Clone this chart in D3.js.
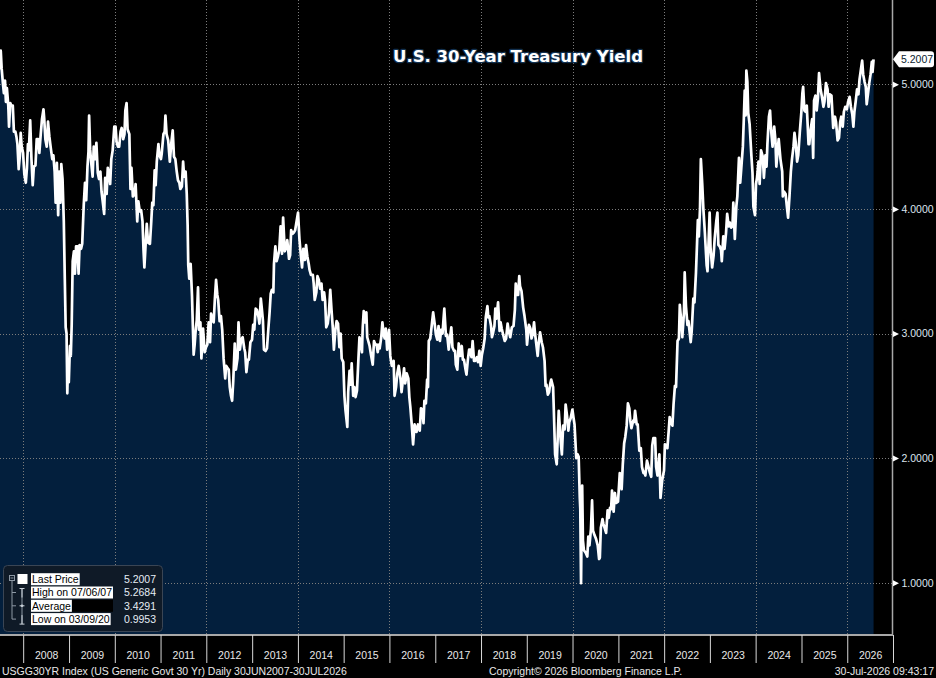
<!DOCTYPE html>
<html><head><meta charset="utf-8">
<script src="https://cdn.jsdelivr.net/npm/d3@7"></script>
<style>html,body{margin:0;padding:0;background:#000;}svg{display:block;}</style>
</head><body>
<svg id="chart" width="936" height="678"></svg>
<script>
// ---------------- DATA ----------------
const dates = [
"2007-06-29","2007-07-06","2007-07-13","2007-07-24","2007-07-31","2007-08-09","2007-08-16","2007-08-24","2007-09-04","2007-09-10","2007-09-20","2007-09-28","2007-10-10","2007-10-19","2007-10-31","2007-11-08","2007-11-16","2007-11-26","2007-12-05","2007-12-12","2007-12-20","2007-12-31",
"2008-01-10","2008-01-22","2008-01-31","2008-02-08","2008-02-15","2008-02-26","2008-03-07","2008-03-17","2008-03-26","2008-04-08","2008-04-18","2008-04-29","2008-05-09","2008-05-20","2008-05-30","2008-06-11","2008-06-17","2008-06-26","2008-07-07","2008-07-17","2008-07-28","2008-08-08","2008-08-20","2008-08-29","2008-09-08","2008-09-16","2008-09-26","2008-10-06","2008-10-14","2008-10-24","2008-10-31","2008-11-10","2008-11-20","2008-11-28","2008-12-05","2008-12-12","2008-12-18","2008-12-24","2008-12-30",
"2009-01-08","2009-01-15","2009-01-22","2009-01-30","2009-02-09","2009-02-17","2009-02-26","2009-03-09","2009-03-18","2009-03-26","2009-04-07","2009-04-16","2009-04-28","2009-05-08","2009-05-18","2009-05-28","2009-06-05","2009-06-10","2009-06-18","2009-06-26","2009-07-08","2009-07-17","2009-07-29","2009-08-07","2009-08-18","2009-08-28","2009-09-08","2009-09-17","2009-09-30","2009-10-08","2009-10-16","2009-10-28","2009-11-06","2009-11-16","2009-11-25","2009-12-04","2009-12-15","2009-12-28",
"2010-01-07","2010-01-15","2010-01-26","2010-02-05","2010-02-16","2010-02-25","2010-03-09","2010-03-19","2010-03-26","2010-04-05","2010-04-13","2010-04-27","2010-05-06","2010-05-14","2010-05-25","2010-06-08","2010-06-16","2010-06-29","2010-07-08","2010-07-19","2010-07-30","2010-08-10","2010-08-18","2010-08-25","2010-09-03","2010-09-13","2010-09-23","2010-10-08","2010-10-19","2010-10-27","2010-11-05","2010-11-15","2010-11-23","2010-12-02","2010-12-15","2010-12-23",
"2011-01-04","2011-01-10","2011-01-24","2011-02-03","2011-02-09","2011-02-18","2011-03-03","2011-03-16","2011-03-28","2011-04-08","2011-04-18","2011-04-29","2011-05-10","2011-05-20","2011-05-31","2011-06-08","2011-06-20","2011-06-30","2011-07-08","2011-07-20","2011-07-29","2011-08-05","2011-08-10","2011-08-18","2011-08-29","2011-09-09","2011-09-22","2011-09-30","2011-10-07","2011-10-17","2011-10-27","2011-11-04","2011-11-15","2011-11-23","2011-12-06","2011-12-19","2011-12-30",
"2012-01-09","2012-01-20","2012-01-31","2012-02-08","2012-02-22","2012-02-29","2012-03-09","2012-03-19","2012-03-29","2012-04-05","2012-04-16","2012-04-27","2012-05-07","2012-05-18","2012-05-31","2012-06-08","2012-06-20","2012-06-28","2012-07-06","2012-07-16","2012-07-25","2012-08-03","2012-08-15","2012-08-24","2012-09-06","2012-09-14","2012-09-25","2012-10-05","2012-10-17","2012-10-30","2012-11-06","2012-11-16","2012-11-27","2012-12-06","2012-12-18","2012-12-31",
"2013-01-09","2013-01-18","2013-01-29","2013-02-08","2013-02-21","2013-02-28","2013-03-11","2013-03-20","2013-03-28","2013-04-05","2013-04-18","2013-04-29","2013-05-09","2013-05-20","2013-05-29","2013-06-07","2013-06-19","2013-06-24","2013-07-05","2013-07-15","2013-07-26","2013-08-05","2013-08-16","2013-08-27","2013-09-05","2013-09-18","2013-09-30","2013-10-08","2013-10-22","2013-10-31","2013-11-08","2013-11-19","2013-11-29","2013-12-10","2013-12-18","2013-12-31",
"2014-01-02","2014-01-13","2014-01-24","2014-02-03","2014-02-13","2014-02-26","2014-03-07","2014-03-17","2014-03-28","2014-04-04","2014-04-15","2014-04-30","2014-05-07","2014-05-15","2014-05-28","2014-06-06","2014-06-17","2014-06-27","2014-07-08","2014-07-17","2014-07-29","2014-08-06","2014-08-15","2014-08-27","2014-09-05","2014-09-16","2014-09-26","2014-10-06","2014-10-15","2014-10-27","2014-11-06","2014-11-17","2014-11-28","2014-12-08","2014-12-16","2014-12-29",
"2015-01-07","2015-01-15","2015-01-30","2015-02-06","2015-02-17","2015-02-27","2015-03-06","2015-03-18","2015-03-27","2015-04-06","2015-04-17","2015-04-29","2015-05-07","2015-05-15","2015-05-27","2015-06-02","2015-06-10","2015-06-22","2015-07-01","2015-07-08","2015-07-27","2015-08-07","2015-08-21","2015-08-31","2015-09-11","2015-09-21","2015-09-30","2015-10-07","2015-10-15","2015-10-28","2015-11-06","2015-11-16","2015-11-25","2015-12-03","2015-12-14","2015-12-29",
"2016-01-08","2016-01-20","2016-01-29","2016-02-04","2016-02-11","2016-02-23","2016-03-04","2016-03-15","2016-03-30","2016-04-07","2016-04-19","2016-04-27","2016-05-06","2016-05-18","2016-05-31","2016-06-08","2016-06-16","2016-06-27","2016-07-08","2016-07-20","2016-08-04","2016-08-16","2016-08-30","2016-09-09","2016-09-20","2016-09-29","2016-10-06","2016-10-18","2016-10-28","2016-11-04","2016-11-10","2016-11-22","2016-12-02","2016-12-15","2016-12-28",
"2017-01-06","2017-01-17","2017-01-27","2017-02-07","2017-02-17","2017-02-28","2017-03-08","2017-03-14","2017-03-27","2017-04-06","2017-04-18","2017-04-28","2017-05-09","2017-05-18","2017-05-31","2017-06-08","2017-06-14","2017-06-26","2017-07-07","2017-07-18","2017-07-31","2017-08-09","2017-08-18","2017-08-29","2017-09-07","2017-09-18","2017-09-28","2017-10-06","2017-10-17","2017-10-26","2017-11-06","2017-11-15","2017-11-29","2017-12-08","2017-12-19","2017-12-29",
"2018-01-08","2018-01-18","2018-01-30","2018-02-08","2018-02-21","2018-02-28","2018-03-08","2018-03-22","2018-03-29","2018-04-06","2018-04-18","2018-04-25","2018-05-04","2018-05-17","2018-05-29","2018-06-06","2018-06-15","2018-06-29","2018-07-09","2018-07-20","2018-08-01","2018-08-10","2018-08-22","2018-09-04","2018-09-17","2018-09-28","2018-10-05","2018-10-15","2018-10-24","2018-11-02","2018-11-08","2018-11-20","2018-12-03","2018-12-14","2018-12-28",
"2019-01-03","2019-01-18","2019-01-30","2019-02-08","2019-02-19","2019-02-28","2019-03-08","2019-03-22","2019-03-29","2019-04-05","2019-04-17","2019-04-30","2019-05-10","2019-05-23","2019-05-31","2019-06-07","2019-06-18","2019-06-28","2019-07-08","2019-07-15","2019-07-30","2019-08-05","2019-08-15","2019-08-28","2019-09-05","2019-09-13","2019-09-30","2019-10-08","2019-10-18","2019-10-30","2019-11-07","2019-11-18","2019-11-29","2019-12-06","2019-12-17","2019-12-31",
"2020-01-08","2020-01-17","2020-01-31","2020-02-10","2020-02-19","2020-02-28","2020-03-03","2020-03-09","2020-03-12","2020-03-18","2020-03-24","2020-04-01","2020-04-15","2020-04-28","2020-05-06","2020-05-15","2020-05-27","2020-06-05","2020-06-12","2020-06-25","2020-07-07","2020-07-20","2020-07-31","2020-08-06","2020-08-14","2020-08-27","2020-09-04","2020-09-16","2020-09-25","2020-10-07","2020-10-16","2020-10-26","2020-11-04","2020-11-11","2020-11-24","2020-12-04","2020-12-15","2020-12-29",
"2021-01-06","2021-01-12","2021-01-27","2021-02-05","2021-02-16","2021-02-25","2021-03-08","2021-03-18","2021-03-29","2021-04-06","2021-04-15","2021-04-29","2021-05-07","2021-05-14","2021-05-27","2021-06-04","2021-06-17","2021-06-29","2021-07-08","2021-07-20","2021-07-30","2021-08-04","2021-08-17","2021-08-27","2021-09-07","2021-09-20","2021-09-28","2021-10-07","2021-10-21","2021-10-29","2021-11-09","2021-11-24","2021-11-30","2021-12-03","2021-12-16","2021-12-31",
"2022-01-07","2022-01-19","2022-01-27","2022-02-08","2022-02-14","2022-02-25","2022-03-08","2022-03-17","2022-03-28","2022-04-06","2022-04-18","2022-04-29","2022-05-06","2022-05-18","2022-05-26","2022-06-08","2022-06-14","2022-06-24","2022-07-06","2022-07-14","2022-08-01","2022-08-09","2022-08-22","2022-08-31","2022-09-12","2022-09-20","2022-09-27","2022-10-05","2022-10-14","2022-10-21","2022-11-01","2022-11-10","2022-11-22","2022-12-06","2022-12-13","2022-12-30",
"2023-01-06","2023-01-19","2023-01-31","2023-02-08","2023-02-21","2023-03-02","2023-03-10","2023-03-20","2023-03-31","2023-04-06","2023-04-18","2023-04-28","2023-05-10","2023-05-19","2023-05-31","2023-06-09","2023-06-20","2023-06-30","2023-07-07","2023-07-19","2023-07-31","2023-08-08","2023-08-21","2023-08-31","2023-09-08","2023-09-21","2023-09-29","2023-10-06","2023-10-13","2023-10-19","2023-10-27","2023-11-03","2023-11-14","2023-11-28","2023-12-07","2023-12-14","2023-12-27",
"2024-01-04","2024-01-12","2024-01-24","2024-02-02","2024-02-13","2024-02-27","2024-03-07","2024-03-19","2024-03-28","2024-04-04","2024-04-16","2024-04-25","2024-05-02","2024-05-15","2024-05-28","2024-06-07","2024-06-14","2024-06-28","2024-07-03","2024-07-17","2024-07-31","2024-08-05","2024-08-14","2024-08-27","2024-09-06","2024-09-16","2024-09-27","2024-10-08","2024-10-17","2024-10-29","2024-11-06","2024-11-15","2024-11-27","2024-12-06","2024-12-18","2024-12-31",
"2025-01-08","2025-01-14","2025-01-24","2025-02-03","2025-02-12","2025-02-26","2025-03-04","2025-03-14","2025-03-27","2025-04-04","2025-04-11","2025-04-22","2025-05-02","2025-05-12","2025-05-21","2025-06-02","2025-06-13","2025-06-25","2025-07-03","2025-07-15","2025-07-28","2025-08-05","2025-08-15","2025-08-28","2025-09-05","2025-09-11","2025-09-25","2025-10-03","2025-10-16","2025-10-27","2025-11-06","2025-11-14","2025-11-26","2025-12-05","2025-12-16","2025-12-29",
"2026-01-08","2026-01-20","2026-01-30","2026-02-10","2026-02-19","2026-02-27","2026-03-09","2026-03-20","2026-03-31","2026-04-09","2026-04-20","2026-04-30","2026-05-08","2026-05-19","2026-05-29","2026-06-05","2026-06-15","2026-06-24","2026-07-06","2026-07-16","2026-07-22","2026-07-30"
];
const yields = [
5.12,5.27,5.13,5.00,4.93,5.03,4.86,4.97,4.83,4.66,4.85,4.83,4.83,4.62,4.62,4.58,4.52,4.32,4.42,4.61,4.50,4.45,
4.28,4.21,4.33,4.52,4.47,4.71,4.40,4.19,4.34,4.35,4.56,4.56,4.45,4.60,4.72,4.80,4.72,4.56,4.50,4.70,4.58,4.49,4.40,4.43,4.30,4.05,4.37,3.95,4.30,4.05,4.36,4.24,3.90,3.44,3.05,3.00,2.52,2.78,2.61,
2.90,2.82,3.07,3.58,3.66,3.48,3.70,3.70,3.48,3.71,3.68,3.72,4.03,4.21,4.07,4.34,4.46,4.75,4.48,4.38,4.26,4.50,4.40,4.53,4.29,4.24,4.30,4.14,4.03,3.96,4.25,4.12,4.33,4.28,4.20,4.40,4.47,4.66,
4.66,4.54,4.50,4.50,4.62,4.65,4.56,4.60,4.79,4.85,4.64,4.60,4.16,4.33,4.10,4.12,4.20,3.90,4.06,3.98,3.99,3.90,3.67,3.53,3.70,3.88,3.73,3.72,3.90,4.05,4.03,4.31,4.19,4.38,4.52,4.43,
4.40,4.44,4.60,4.62,4.75,4.60,4.55,4.38,4.53,4.63,4.42,4.40,4.30,4.23,4.21,4.16,4.18,4.38,4.26,4.30,4.12,3.87,3.55,3.44,3.56,3.30,2.83,2.91,3.01,3.11,3.37,3.03,3.09,2.80,3.04,2.85,2.89,
2.91,3.09,2.93,3.16,3.10,3.09,3.27,3.43,3.31,3.27,3.10,3.14,3.03,2.80,2.64,2.74,2.72,2.71,2.57,2.50,2.46,2.62,2.92,2.71,2.80,3.09,2.87,2.95,2.97,2.88,2.85,2.69,2.79,2.79,2.93,2.95,
3.07,3.03,3.20,3.19,3.13,3.08,3.28,3.19,3.10,2.87,2.86,2.88,3.02,3.17,3.32,3.35,3.33,3.56,3.70,3.58,3.62,3.67,3.86,3.64,3.93,3.66,3.69,3.75,3.60,3.63,3.83,3.80,3.81,3.83,3.88,3.96,
3.97,3.76,3.63,3.53,3.68,3.59,3.71,3.62,3.56,3.51,3.47,3.47,3.40,3.27,3.33,3.46,3.43,3.36,3.40,3.27,3.33,3.26,3.05,3.08,3.16,3.35,3.19,3.05,2.87,3.03,3.10,3.08,2.89,3.00,2.80,2.77,
2.50,2.39,2.25,2.53,2.70,2.59,2.76,2.50,2.57,2.49,2.54,2.80,2.97,2.94,2.85,3.05,3.18,3.09,3.17,2.97,2.90,2.83,2.75,2.94,2.91,2.91,2.85,2.91,2.88,2.97,3.09,2.99,2.96,3.04,2.87,3.03,
2.82,2.74,2.75,2.78,2.50,2.57,2.68,2.74,2.63,2.53,2.64,2.72,2.60,2.68,2.64,2.49,2.41,2.27,2.11,2.27,2.21,2.27,2.22,2.40,2.39,2.28,2.46,2.44,2.63,2.57,2.94,2.96,3.05,3.17,3.07,
2.99,2.95,3.06,2.94,3.03,3.00,3.12,3.20,2.98,2.99,2.87,2.96,3.05,2.89,2.86,2.86,2.75,2.71,2.92,2.82,2.90,2.79,2.79,2.72,2.67,2.79,2.87,2.87,2.81,2.94,2.78,2.78,2.81,2.77,2.86,2.74,
2.83,2.88,2.96,3.13,3.22,3.13,3.14,3.06,2.97,3.00,3.06,3.20,3.12,3.25,3.02,3.09,3.04,2.98,2.94,2.96,3.08,3.02,2.97,3.05,3.06,3.19,3.40,3.31,3.31,3.46,3.38,3.34,3.21,3.14,3.03,
2.91,3.07,3.04,2.96,3.00,3.09,3.00,2.88,2.82,2.91,3.01,2.93,2.89,2.78,2.58,2.59,2.51,2.53,2.60,2.63,2.57,2.38,2.03,1.95,2.17,2.38,2.12,2.03,2.26,2.23,2.43,2.34,2.22,2.29,2.32,2.39,
2.33,2.27,2.00,2.03,2.01,1.68,1.59,0.9953,1.30,1.78,1.34,1.26,1.24,1.21,1.37,1.30,1.43,1.66,1.42,1.38,1.35,1.30,1.19,1.20,1.44,1.51,1.47,1.43,1.40,1.58,1.52,1.60,1.59,1.74,1.57,1.72,1.64,1.65,
1.78,1.88,1.75,1.95,2.12,2.17,2.26,2.44,2.40,2.30,2.24,2.30,2.29,2.38,2.27,2.27,2.06,2.08,1.93,1.88,1.89,1.86,1.98,1.94,1.89,1.85,2.10,2.16,2.16,1.93,1.86,2.03,1.79,1.68,1.82,1.90,
2.11,2.10,2.08,2.24,2.33,2.28,2.26,2.43,2.58,2.57,2.94,2.96,3.23,3.09,2.97,3.17,3.49,3.22,3.07,3.10,2.93,3.02,3.28,3.25,3.49,3.71,3.91,3.78,4.00,4.40,4.20,4.00,3.81,3.55,3.50,3.97,
3.69,3.53,3.63,3.76,3.90,3.97,3.71,3.70,3.67,3.58,3.78,3.68,3.81,3.96,3.86,3.89,3.85,3.86,4.05,3.76,4.02,4.10,4.41,4.21,4.32,4.50,4.73,4.95,4.75,5.11,5.02,4.77,4.68,4.43,4.29,4.02,3.95,
4.20,4.25,4.38,4.20,4.47,4.42,4.25,4.43,4.34,4.52,4.74,4.79,4.65,4.50,4.66,4.55,4.34,4.51,4.56,4.40,4.30,4.10,4.14,4.12,4.02,3.93,4.10,4.30,4.40,4.50,4.61,4.54,4.38,4.43,4.61,4.78,
4.93,4.98,4.79,4.78,4.83,4.52,4.52,4.63,4.72,4.41,4.87,4.91,4.79,4.89,5.09,4.96,4.90,4.82,4.86,5.01,4.96,4.82,4.92,4.91,4.76,4.65,4.74,4.70,4.55,4.57,4.70,4.74,4.66,4.78,4.82,4.80,
4.86,4.90,4.82,4.76,4.66,4.78,4.86,4.96,4.92,5.04,5.12,5.19,5.08,5.02,4.98,4.84,4.92,5.00,5.08,5.18,5.10,5.2007
];
const yearLabels = ["2008","2009","2010","2011","2012","2013","2014","2015","2016","2017","2018","2019","2020","2021","2022","2023","2024","2025","2026"];
const yearBoundaries = ["2008","2009","2010","2011","2012","2013","2014","2015","2016","2017","2018","2019","2020","2021","2022","2023","2024","2025","2026","2027"];
const gridYears = ["2008","2010","2012","2014","2016","2018","2020","2022","2024","2026"];
const yTicks = [1, 2, 3, 4, 5];
const yMinorTicks = [1.5, 2.5, 3.5, 4.5, 5.5];
const legendLabels = ["Last Price", "High on 07/06/07", "Average", "Low on 03/09/20"];
const legendValues = ["5.2007", "5.2684", "3.4291", "0.9953"];
const lastPrice = 5.2007;
const titleText = "U.S. 30-Year Treasury Yield";
const footerLeft = "USGG30YR Index (US Generic Govt 30 Yr) Daily 30JUN2007-30JUL2026";
const footerMid = "Copyright\u00A9 2026 Bloomberg Finance L.P.";
const footerRight = "30-Jul-2026 09:43:17";

// ---------------- CHART ----------------
const W = 936, H = 678;
const plotR = 893, plotB = 635;
const FONT = "'Liberation Sans', Arial, sans-serif";
const parse = d3.utcParse("%Y-%m-%d");
const n = Math.min(dates.length, yields.length);
const data = d3.range(n).map(i => ({date: parse(dates[i]), v: yields[i]}));

const x = d3.scaleUtc().domain([parse("2007-06-30"), parse("2027-01-01")]).range([0, plotR]);
const y = d3.scaleLinear().domain([0.58, 5.677]).range([plotB, 0]);

const svg = d3.select("#chart");
svg.append("rect").attr("width", W).attr("height", H).attr("fill", "#000");

svg.append("defs").append("clipPath").attr("id", "clip")
  .append("rect").attr("x", 0).attr("y", 0).attr("width", plotR).attr("height", plotB);

const plot = svg.append("g").attr("clip-path", "url(#clip)");

plot.append("path").datum(data)
  .attr("fill", "#031f3d")
  .attr("d", d3.area().x(d => x(d.date)).y0(plotB).y1(d => y(d.v)));

// gridlines
plot.append("g").selectAll("line").data(yTicks).join("line")
  .attr("x1", 0).attr("x2", plotR)
  .attr("y1", d => Math.round(y(d)) + 0.5).attr("y2", d => Math.round(y(d)) + 0.5)
  .attr("stroke", "#7c7c7c").attr("stroke-width", 1).attr("stroke-dasharray", "1,2");
plot.append("g").selectAll("line").data(gridYears).join("line")
  .attr("y1", 0).attr("y2", plotB)
  .attr("x1", d => Math.round(x(parse(d + "-01-01"))) + 0.5)
  .attr("x2", d => Math.round(x(parse(d + "-01-01"))) + 0.5)
  .attr("stroke", "#7c7c7c").attr("stroke-width", 1).attr("stroke-dasharray", "1,2");

plot.append("path").datum(data)
  .attr("fill", "none").attr("stroke", "#ffffff").attr("stroke-width", 2.7)
  .attr("stroke-linejoin", "round")
  .attr("d", d3.line().x(d => x(d.date)).y(d => y(d.v)));

// right axis
const axR = svg.append("g").attr("transform", `translate(${plotR - 0.5},0)`);
axR.call(d3.axisRight(y).tickValues(yMinorTicks).tickSize(4).tickFormat(""));
axR.call(d3.axisRight(y).tickValues(yTicks).tickSize(0).tickPadding(9).tickFormat(d3.format(".4f")));
axR.selectAll(".domain").attr("stroke", "#a8a8a8").attr("stroke-width", 1.5).attr("d", `M0,0V${plotB}`);
axR.selectAll(".tick line").attr("stroke", "#e0e0e0");
axR.selectAll(".tick text").attr("fill", "#dce5ee").style("font", `10.5px ${FONT}`);
axR.selectAll(".tick").filter(d => yTicks.includes(d)).append("path")
  .attr("d", "M0.5,-3L6.5,0L0.5,3Z").attr("fill", "#ffffff");

// bottom axis
const axB = svg.append("g").attr("transform", `translate(0,${plotB})`);
axB.call(d3.axisBottom(x).tickValues(yearBoundaries.map(s => parse(s + "-01-01"))).tickSize(28).tickFormat(""));
axB.select(".domain").attr("stroke", "#a8a8a8").attr("stroke-width", 2).attr("d", `M0,0H${plotR}`);
axB.selectAll(".tick line").attr("stroke", "#d8d8d8");
const axL = svg.append("g").attr("transform", `translate(0,${plotB})`);
axL.call(d3.axisBottom(x).tickValues(yearLabels.map(s => parse(s + "-07-02"))).tickSize(0).tickPadding(17)
  .tickFormat(d3.utcFormat("%Y")));
axL.select(".domain").remove();
axL.selectAll(".tick text").attr("fill", "#e8e8e8").style("font", `10.5px ${FONT}`);

// last price tag
const yl = y(lastPrice);
svg.append("path")
  .attr("d", `M${plotR},${yl}L${plotR + 6},${yl - 8}H${W - 5}Q${W - 2},${yl - 8} ${W - 2},${yl - 5}V${yl + 5}Q${W - 2},${yl + 8} ${W - 5},${yl + 8}H${plotR + 6}Z`)
  .attr("fill", "#ffffff");
svg.append("text").attr("x", plotR + 8).attr("y", yl).attr("dy", "0.35em")
  .attr("fill", "#0b1b2e").style("font", `10.5px ${FONT}`).text(d3.format(".4f")(lastPrice));

// title
svg.append("text").attr("x", 518).attr("y", 62).attr("text-anchor", "middle")
  .attr("fill", "#ffffff").attr("stroke", "#12304f").attr("stroke-width", 2.5)
  .attr("paint-order", "stroke").attr("stroke-linejoin", "round")
  .style("font", "bold 16.5px 'DejaVu Sans', Verdana, sans-serif").text(titleText);

// legend
const lg = svg.append("g");
lg.append("rect").attr("x", 3.5).attr("y", 565.5).attr("width", 159).attr("height", 66).attr("rx", 4)
  .attr("fill", "#0f1a27").attr("stroke", "#3a4554");
const rowC = [579.2, 592.5, 605.8, 619.1];
const labels = lg.selectAll("g.row").data(legendLabels).join("g").attr("class", "row");
const txt = labels.append("text").attr("x", 32).attr("y", (d, i) => rowC[i] + 3.8)
  .attr("fill", "#000").style("font", `10.5px ${FONT}`).text(d => d);
const widths = [];
txt.each(function () { widths.push(this.getComputedTextLength()); });
const maxW = d3.max(widths);
labels.insert("rect", "text").attr("x", 31).attr("y", (d, i) => rowC[i] - 6)
  .attr("height", 12).attr("width", (d, i) => widths[i] + 2).attr("fill", "#ffffff");
lg.append("rect").attr("x", 31 + widths[2] + 2).attr("y", rowC[2] - 6).attr("height", 12)
  .attr("width", maxW - widths[2]).attr("fill", "#000");
lg.selectAll("text.val").data(legendValues).join("text").attr("class", "val")
  .attr("x", 156).attr("y", (d, i) => rowC[i] + 3.8).attr("text-anchor", "end")
  .attr("fill", "#e6edf5").style("font", `10.5px ${FONT}`).text(d => d);
// legend icons
const ic = "#8d98a4";
lg.append("rect").attr("x", 9.5).attr("y", 575.5).attr("width", 5).attr("height", 5).attr("fill", "none").attr("stroke", ic);
lg.append("line").attr("x1", 10.5).attr("x2", 13.5).attr("y1", 578).attr("y2", 578).attr("stroke", ic);
lg.append("rect").attr("x", 17.5).attr("y", 574).attr("width", 10).attr("height", 10).attr("fill", "#ffffff");
lg.append("line").attr("x1", 12).attr("x2", 12).attr("y1", 581).attr("y2", rowC[3]).attr("stroke", ic);
[1, 2, 3].forEach(i => {
  lg.append("line").attr("x1", 12).attr("x2", 16).attr("y1", rowC[i]).attr("y2", rowC[i]).attr("stroke", ic);
});
lg.append("line").attr("x1", 22).attr("x2", 22).attr("y1", rowC[1] - 4).attr("y2", rowC[3] + 5).attr("stroke", ic);
lg.append("line").attr("x1", 19.5).attr("x2", 24.5).attr("y1", rowC[1] - 4).attr("y2", rowC[1] - 4).attr("stroke", "#c8d0d8");
lg.append("line").attr("x1", 19.5).attr("x2", 24.5).attr("y1", rowC[2]).attr("y2", rowC[2]).attr("stroke", "#c8d0d8");
lg.append("circle").attr("cx", 22).attr("cy", rowC[2]).attr("r", 1.3).attr("fill", "#c8d0d8");
lg.append("line").attr("x1", 19.5).attr("x2", 24.5).attr("y1", rowC[3] + 5).attr("y2", rowC[3] + 5).attr("stroke", "#c8d0d8");
lg.append("line").attr("x1", 22).attr("x2", 22).attr("y1", rowC[1] - 4).attr("y2", rowC[1] + 5).attr("stroke", "#c8d0d8");
lg.append("line").attr("x1", 22).attr("x2", 22).attr("y1", rowC[3] - 4).attr("y2", rowC[3] + 5).attr("stroke", "#c8d0d8");

// footer
const ft = svg.append("g").attr("fill", "#e8e8e8").style("font", `10.5px ${FONT}`);
ft.append("text").attr("x", 2).attr("y", 675).text(footerLeft);
ft.append("text").attr("x", 489).attr("y", 675).text(footerMid);
ft.append("text").attr("x", 934).attr("y", 675).attr("text-anchor", "end").text(footerRight);
</script>
</body></html>
